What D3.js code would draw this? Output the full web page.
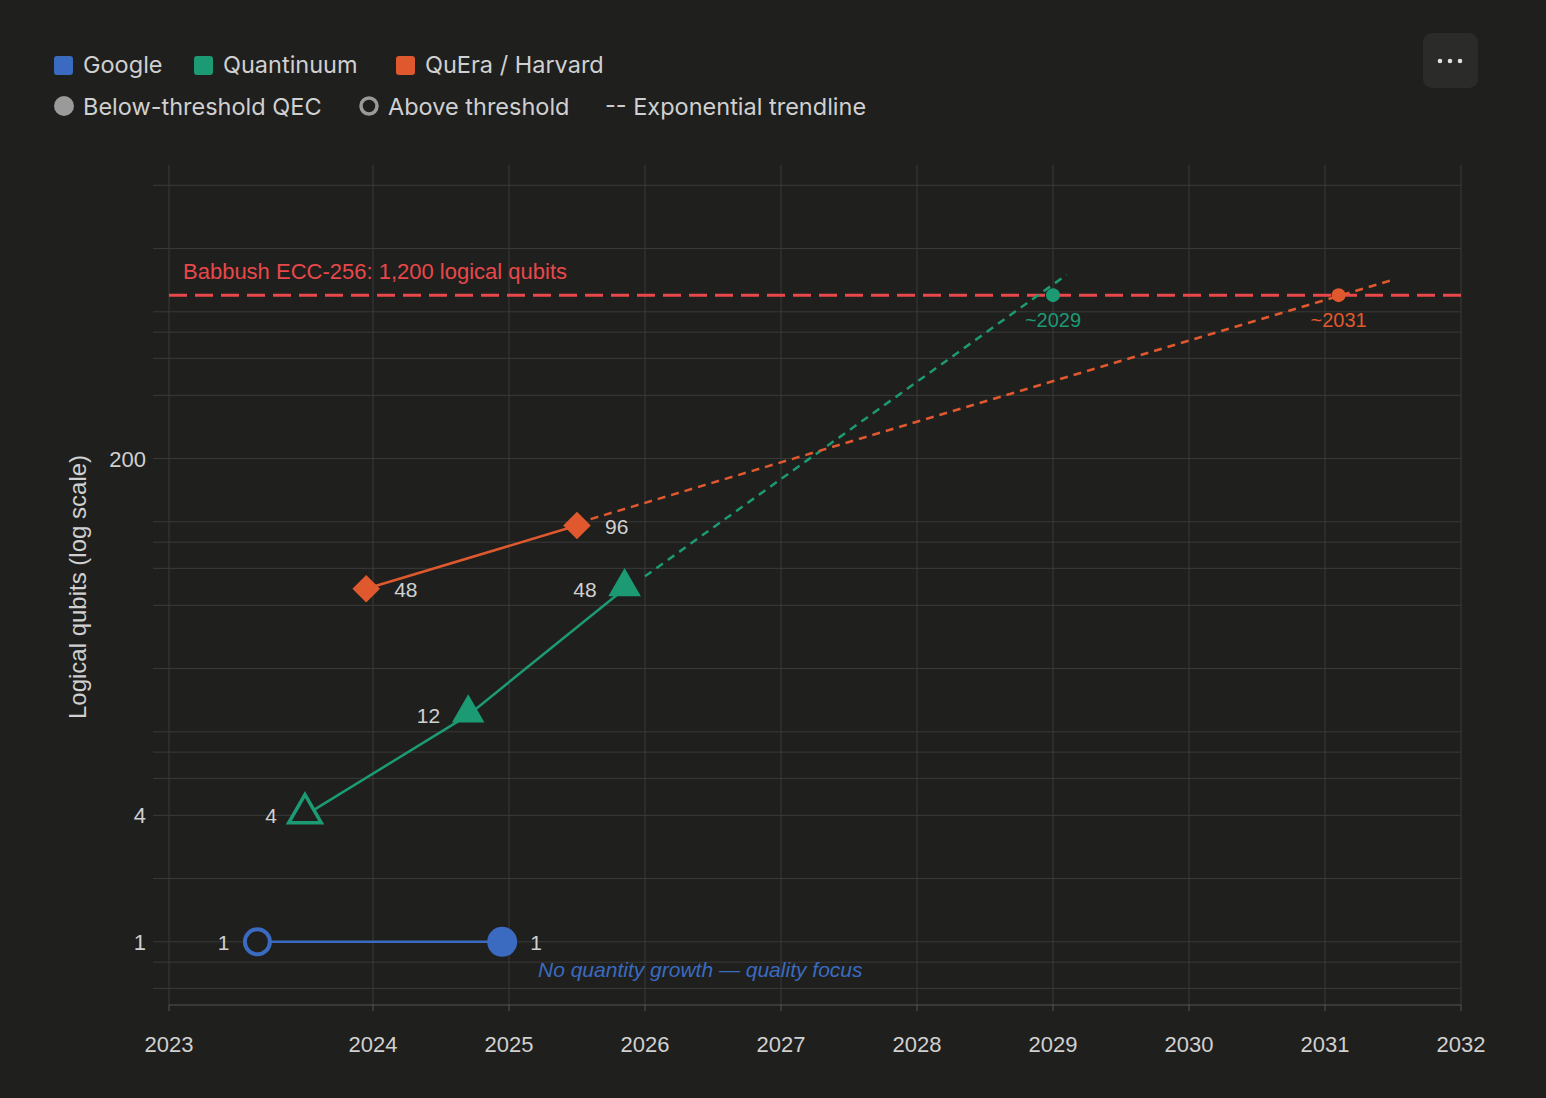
<!DOCTYPE html>
<html><head><meta charset="utf-8">
<script src="https://cdn.jsdelivr.net/npm/d3@7"></script>
<style>body{margin:0;background:#1f1f1e;}svg{display:block;font-family:"Liberation Sans",Arial,sans-serif;}</style>
</head><body><svg id="c" width="1546" height="1098"></svg>
<script>
const googleYears=[2023.15,2024.95], googleVals=[1,1], googleFilled=[false,true];
const quantYears=[2023.5,2024.7,2025.85], quantVals=[4,12,48], quantFilled=[false,true,true];
const queraYears=[2023.95,2025.5], queraVals=[48,96];
const quantTrendYears=[2026.0,2029.1], quantTrendVals=[55,1500];
const queraTrendYears=[2025.6,2031.5], queraTrendVals=[103,1420];
const targetVal=1200, quantHitYear=2029.0, queraHitYear=2031.1;
const xTickVals=[2022.5,2024,2025,2026,2027,2028,2029,2030,2031,2032];
const xTickLabels=["2023","2024","2025","2026","2027","2028","2029","2030","2031","2032"];
const yTickVals=[1,4,200];
const yGridVals=[0.6,0.8,1,2,4,6,8,10,20,40,60,80,100,200,400,600,800,1000,2000,4000];
const C={g:"#3a6bc0",q:"#1c9a73",e:"#e0592e",r:"#e8484a",txt:"#d0d0d0",grid:"#3a3a3a"};

const svg=d3.select("#c");
const x=d3.scaleLinear().domain([2022.5,2032]).range([169,1461]);
const y=d3.scaleLog().domain([0.5,5000]).range([1005,165]);
svg.append("rect").attr("width",1546).attr("height",1098).attr("fill","#1f1f1e");
svg.append("g").selectAll("line").data(yGridVals).join("line").attr("x1",153).attr("x2",1461)
 .attr("y1",d=>y(d)).attr("y2",d=>y(d)).attr("stroke",C.grid).attr("stroke-width",1);
svg.append("g").selectAll("line").data(xTickVals).join("line").attr("x1",d=>x(d)).attr("x2",d=>x(d))
 .attr("y1",165).attr("y2",1005).attr("stroke",C.grid);
svg.append("line").attr("x1",169).attr("x2",1461).attr("y1",1005).attr("y2",1005).attr("stroke","#555");
svg.append("g").selectAll("line").data(xTickVals).join("line").attr("x1",d=>x(d)).attr("x2",d=>x(d))
 .attr("y1",1005).attr("y2",1011).attr("stroke","#555");
svg.append("g").selectAll("text").data(xTickVals).join("text").attr("x",d=>x(d)).attr("y",1052)
 .attr("text-anchor","middle").attr("fill",C.txt).attr("font-size",22).text((d,i)=>xTickLabels[i]);
svg.append("g").selectAll("text").data(yTickVals).join("text").attr("x",146).attr("y",d=>y(d)+8)
 .attr("text-anchor","end").attr("fill",C.txt).attr("font-size",22).text(d=>d);
svg.append("text").attr("transform","translate(86,587) rotate(-90)").attr("text-anchor","middle")
 .attr("fill",C.txt).attr("font-size",24).text("Logical qubits (log scale)");
svg.append("line").attr("x1",169).attr("x2",1461).attr("y1",y(targetVal)).attr("y2",y(targetVal))
 .attr("stroke",C.r).attr("stroke-width",3).attr("stroke-dasharray","18,8");
svg.append("text").attr("x",183).attr("y",y(targetVal)-16).attr("fill",C.r).attr("font-size",22)
 .text("Babbush ECC-256: 1,200 logical qubits");
const line=d3.line().x(d=>x(d[0])).y(d=>y(d[1]));
const zip=(a,b)=>a.map((v,i)=>[v,b[i]]);
svg.append("path").attr("d",line(zip(quantTrendYears,quantTrendVals))).attr("fill","none").attr("stroke",C.q).attr("stroke-width",2.5).attr("stroke-dasharray","8,6");
svg.append("path").attr("d",line(zip(queraTrendYears,queraTrendVals))).attr("fill","none").attr("stroke",C.e).attr("stroke-width",2.5).attr("stroke-dasharray","8,6");
svg.append("circle").attr("cx",x(quantHitYear)).attr("cy",y(targetVal)).attr("r",7).attr("fill",C.q);
svg.append("circle").attr("cx",x(queraHitYear)).attr("cy",y(targetVal)).attr("r",7).attr("fill",C.e);
svg.append("text").attr("x",x(quantHitYear)).attr("y",y(targetVal)+32).attr("text-anchor","middle").attr("fill",C.q).attr("font-size",20).text("~2029");
svg.append("text").attr("x",x(queraHitYear)).attr("y",y(targetVal)+32).attr("text-anchor","middle").attr("fill",C.e).attr("font-size",20).text("~2031");
svg.append("path").attr("d",line(zip(googleYears,googleVals))).attr("fill","none").attr("stroke",C.g).attr("stroke-width",2.5);
svg.append("path").attr("d",line(zip(quantYears,quantVals))).attr("fill","none").attr("stroke",C.q).attr("stroke-width",2.5);
svg.append("path").attr("d",line(zip(queraYears,queraVals))).attr("fill","none").attr("stroke",C.e).attr("stroke-width",2.5);
googleYears.forEach((yr,i)=>{svg.append("circle").attr("cx",x(yr)).attr("cy",y(googleVals[i])).attr("r",googleFilled[i]?15:12.5)
 .attr("fill",googleFilled[i]?C.g:"#1f1f1e").attr("stroke",C.g).attr("stroke-width",googleFilled[i]?0:4);});
const tri=d3.symbol().type(d3.symbolTriangle).size(460);
quantYears.forEach((yr,i)=>{svg.append("path").attr("d",tri()).attr("transform",`translate(${x(yr)},${y(quantVals[i])-2})`)
 .attr("fill",quantFilled[i]?C.q:"#1f1f1e").attr("stroke",C.q).attr("stroke-width",quantFilled[i]?0:3.5);});
const dia=d3.symbol().type(d3.symbolSquare).size(380);
queraYears.forEach((yr,i)=>{svg.append("path").attr("d",dia()).attr("transform",`translate(${x(yr)},${y(queraVals[i])}) rotate(45)`).attr("fill",C.e);});
const lab=(yr,v,t,side)=>svg.append("text").attr("x",x(yr)+(side<0?-28:28)).attr("y",y(v)+8)
 .attr("text-anchor",side<0?"end":"start").attr("fill",C.txt).attr("font-size",21).text(t);
lab(googleYears[0],1,"1",-1);lab(googleYears[1],1,"1",1);
lab(quantYears[0],4,"4",-1);lab(quantYears[1],12,"12",-1);lab(quantYears[2],48,"48",-1);
lab(queraYears[0],48,"48",1);lab(queraYears[1],96,"96",1);
svg.append("text").attr("x",538).attr("y",977).attr("fill",C.g).attr("font-size",21).attr("font-style","italic").text("No quantity growth — quality focus");
const LF="Inter,'Open Sans',sans-serif";
const lg=[[54,"Google",C.g],[194,"Quantinuum",C.q],[396,"QuEra / Harvard",C.e]];
lg.forEach(([lx,t,c])=>{svg.append("rect").attr("x",lx).attr("y",56).attr("width",19).attr("height",19).attr("rx",3).attr("fill",c);
 svg.append("text").attr("x",lx+29).attr("y",73).attr("fill",C.txt).attr("font-family",LF).attr("font-size",23.5).text(t);});
svg.append("circle").attr("cx",64).attr("cy",106).attr("r",10).attr("fill","#9a9a9a");
svg.append("text").attr("x",83).attr("y",115).attr("fill",C.txt).attr("font-family",LF).attr("font-size",23.5).text("Below-threshold QEC");
svg.append("circle").attr("cx",369).attr("cy",106).attr("r",8).attr("fill","none").attr("stroke","#9a9a9a").attr("stroke-width",3.5);
svg.append("text").attr("x",388).attr("y",115).attr("fill",C.txt).attr("font-family",LF).attr("font-size",23.5).text("Above threshold");
svg.append("text").attr("x",605).attr("y",115).attr("fill",C.txt).attr("font-family",LF).attr("font-size",23.5).text("-- Exponential trendline");
svg.append("rect").attr("x",1423).attr("y",33).attr("width",55).attr("height",55).attr("rx",9).attr("fill","#2b2b2a");
[-10,0,10].forEach(dx=>svg.append("circle").attr("cx",1450+dx).attr("cy",61).attr("r",2.3).attr("fill","#e0e0e0"));
</script></body></html>
